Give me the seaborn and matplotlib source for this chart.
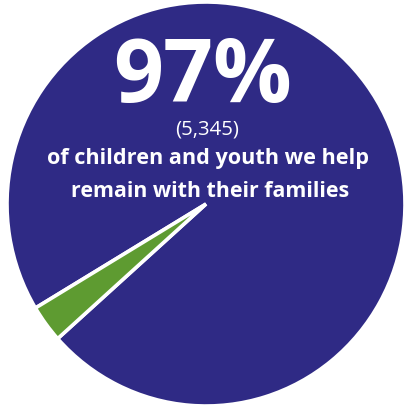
import matplotlib
matplotlib.use("Agg")
import matplotlib.pyplot as plt
import seaborn as sns

sns.set_theme(style="white")
plt.rcParams['font.family'] = ['Open Sans', 'DejaVu Sans']

# ---- data ----
categories = ["Remain with families", "Other"]
shares = [97, 3]
count_label = "(5,345)"
headline = "97%"
caption_lines = ["of children and youth we help", "remain with their families"]
colors = ["#2F2A85", "#5E9B31"]

W, H = 406, 410
fig = plt.figure(figsize=(W / 100, H / 100), dpi=100)
fig.patch.set_facecolor("white")
ax = fig.add_axes([0, 0, 1, 1])

# disc geometry in pixels
cx, cy, rx, ry = 206, 205, 199, 202

wedges, _ = ax.pie(shares, colors=colors, startangle=-138.2, counterclock=True,
                   center=(0, 0), radius=1.0,
                   wedgeprops=dict(edgecolor="white", linewidth=2.6, joinstyle="miter"))

ax.set_aspect("auto")
ax.set_xlim(-cx / rx, (W - cx) / rx)
ax.set_ylim(-(H - cy) / ry, cy / ry)
ax.axis("off")

def px(x, y):
    return x / W, 1 - y / H

fig.text(*px(203, 102), headline, color="white", fontsize=63, fontweight="bold",
         ha="center", va="baseline")
fig.text(*px(207, 134), count_label, color="white", fontsize=14.7,
         ha="center", va="baseline")
fig.text(*px(208, 164), caption_lines[0], color="white", fontsize=15.6, fontweight="bold",
         ha="center", va="baseline")
fig.text(*px(210, 197), caption_lines[1], color="white", fontsize=15.4, fontweight="bold",
         ha="center", va="baseline")

fig.savefig("out.png", dpi=100, facecolor="white")
